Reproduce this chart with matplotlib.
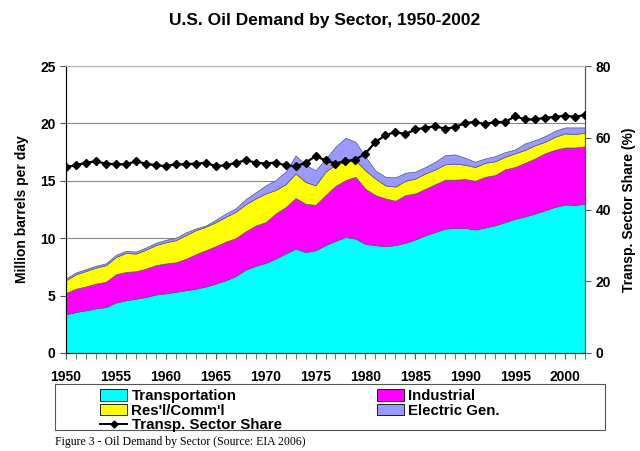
import matplotlib
matplotlib.use("Agg")
import matplotlib.pyplot as plt
from matplotlib.patches import Patch, Rectangle
from matplotlib.lines import Line2D
import numpy as np

plt.rcParams['font.family'] = ['Liberation Sans', 'DejaVu Sans']

years = list(range(1950, 2003))

# cumulative tops (million barrels per day)
transp_top = [3.37, 3.58, 3.72, 3.90, 4.00, 4.40, 4.60, 4.74, 4.88, 5.10,
              5.20, 5.33, 5.47, 5.60, 5.80, 6.05, 6.34, 6.70, 7.27, 7.60,
              7.85, 8.23, 8.66, 9.10, 8.80, 8.95, 9.40, 9.77, 10.10, 9.97,
              9.50, 9.40, 9.30, 9.40, 9.60, 9.90, 10.26, 10.55, 10.84, 10.90,
              10.90, 10.76, 10.93, 11.13, 11.40, 11.70, 11.90, 12.15, 12.44, 12.73,
              12.94, 12.90, 13.00]
indus_top = [5.23, 5.60, 5.80, 6.05, 6.20, 6.86, 7.06, 7.12, 7.35, 7.65,
             7.80, 7.90, 8.20, 8.60, 8.95, 9.30, 9.70, 10.00, 10.60, 11.10,
             11.40, 12.15, 12.70, 13.50, 13.00, 12.90, 13.75, 14.55, 15.06, 15.35,
             14.30, 13.75, 13.46, 13.26, 13.75, 13.90, 14.30, 14.70, 15.10, 15.10,
             15.15, 15.00, 15.35, 15.50, 16.00, 16.20, 16.57, 16.95, 17.40, 17.70,
             17.90, 17.90, 18.00]
resc_top = [6.34, 6.86, 7.15, 7.44, 7.65, 8.37, 8.72, 8.66, 9.00, 9.40,
            9.65, 9.83, 10.26, 10.70, 11.00, 11.40, 11.86, 12.30, 12.96, 13.46,
            13.90, 14.20, 14.70, 15.64, 14.90, 14.60, 15.80, 16.40, 16.66, 16.80,
            15.90, 15.20, 14.60, 14.50, 15.00, 15.20, 15.64, 16.00, 16.45, 16.50,
            16.40, 16.20, 16.57, 16.70, 17.10, 17.40, 17.70, 18.10, 18.40, 18.84,
            19.13, 19.07, 19.20]
elec_top = [6.50, 7.02, 7.31, 7.60, 7.81, 8.55, 8.90, 8.84, 9.19, 9.60,
            9.86, 10.05, 10.50, 10.85, 11.10, 11.60, 12.15, 12.60, 13.40, 14.00,
            14.60, 15.06, 15.80, 17.20, 16.40, 15.90, 16.90, 17.96, 18.75, 18.40,
            17.10, 15.90, 15.35, 15.30, 15.70, 15.80, 16.20, 16.66, 17.24, 17.30,
            17.00, 16.66, 16.95, 17.15, 17.50, 17.73, 18.26, 18.55, 18.90, 19.36,
            19.65, 19.65, 19.65]
# transportation share of total (%)
share = [51.9, 52.3, 53.1, 53.4, 52.8, 52.6, 52.6, 53.4, 52.8, 52.3,
         52.1, 52.6, 52.6, 52.8, 53.0, 52.1, 52.3, 53.0, 53.7, 53.1,
         52.8, 53.1, 52.3, 52.0, 53.0, 54.9, 53.7, 52.8, 53.5, 53.9,
         55.6, 58.8, 60.7, 61.6, 61.0, 62.3, 62.8, 63.2, 62.5, 63.0,
         64.1, 64.4, 63.8, 64.4, 64.4, 66.0, 65.1, 65.1, 65.6, 65.8,
         66.2, 65.8, 66.4]

yr = np.array(years)
layers = [np.zeros(len(yr)), np.array(transp_top), np.array(indus_top),
          np.array(resc_top), np.array(elec_top)]
colors = ['#00FFFF', '#FF00FF', '#FFFF00', '#9999FF']

fig = plt.figure(figsize=(6.4, 4.51), dpi=100)
ax = fig.add_axes([66/640, 1 - 353/451, (585 - 66)/640, (353 - 66)/451])

for i in range(4):
    ax.fill_between(yr, layers[i], layers[i + 1], facecolor=colors[i],
                    edgecolor='#555577', linewidth=0.5, zorder=2)

ax.set_xlim(1950, 2002)
ax.set_ylim(0, 25)
ax.set_yticks([0, 5, 10, 15, 20, 25])
ax.set_yticklabels(['0', '5', '10', '15', '20', '25'])
ax.set_xticks(range(1950, 2001, 5))
ax.set_xticks(years, minor=True)
ax.tick_params(axis='x', which='both', length=4, direction='out', color='#555555', pad=8)
ax.tick_params(axis='y', length=4, color='#555555')
for lbl in ax.get_xticklabels() + ax.get_yticklabels():
    lbl.set_fontweight('bold')
    lbl.set_fontsize(10)
ax.grid(axis='y', color='#888888', linewidth=0.8, zorder=1)
ax.set_axisbelow(True)
for s in ['left', 'bottom']:
    ax.spines[s].set_color('#555555')
ax.spines['top'].set_color('#bbbbbb')
ax.spines['right'].set_color('#555555')
ax.set_ylabel('Million barrels per day', fontsize=10, fontweight='bold', labelpad=8)

ax2 = ax.twinx()
ax2.plot(yr, share, color='black', linewidth=1.6, marker='D', markersize=4, zorder=5)
ax2.set_ylim(0, 80)
ax2.set_yticks([0, 20, 40, 60, 80])
ax2.tick_params(axis='y', length=4, color='#555555')
for lbl in ax2.get_yticklabels():
    lbl.set_fontweight('bold')
    lbl.set_fontsize(10)
ax2.spines['right'].set_color('#555555')
ax2.spines['top'].set_color('#bbbbbb')
ax2.set_ylabel('Transp. Sector Share (%)', fontsize=10, fontweight='bold', labelpad=8)

fig.text(0.508, 0.955, 'U.S. Oil Demand by Sector, 1950-2002', ha='center', va='center',
         fontsize=12.5, fontweight='bold')

# legend box
fig.patches.append(Rectangle((55/640, 1 - 430/451), 550/640, 46/451, transform=fig.transFigure,
                             facecolor='white', edgecolor='#555555', linewidth=0.8))
handles = [Patch(facecolor=colors[0], edgecolor='black', linewidth=0.6),
           Patch(facecolor=colors[2], edgecolor='black', linewidth=0.6),
           Line2D([], [], color='black', marker='D', markersize=3.5, linewidth=1.4),
           Patch(facecolor=colors[1], edgecolor='black', linewidth=0.6),
           Patch(facecolor=colors[3], edgecolor='black', linewidth=0.6)]
labels = ['Transportation', "Res'l/Comm'l", 'Transp. Sector Share', 'Industrial', 'Electric Gen.']
fig.legend(handles, labels, ncol=2, loc='upper left', bbox_to_anchor=(100/640, 1 - 389/451),
           frameon=False, prop={'weight': 'bold', 'size': 10.8}, handlelength=1.8,
           handleheight=0.8, handletextpad=0.3, labelspacing=0.05, columnspacing=6.35,
           borderpad=0, borderaxespad=0)

fig.text(55/640, 1 - 442/451, 'Figure 3 - Oil Demand by Sector (Source: EIA 2006)',
         family=['Liberation Serif', 'DejaVu Serif'], fontsize=8.5, va='center')

fig.savefig('out.png', dpi=100)
